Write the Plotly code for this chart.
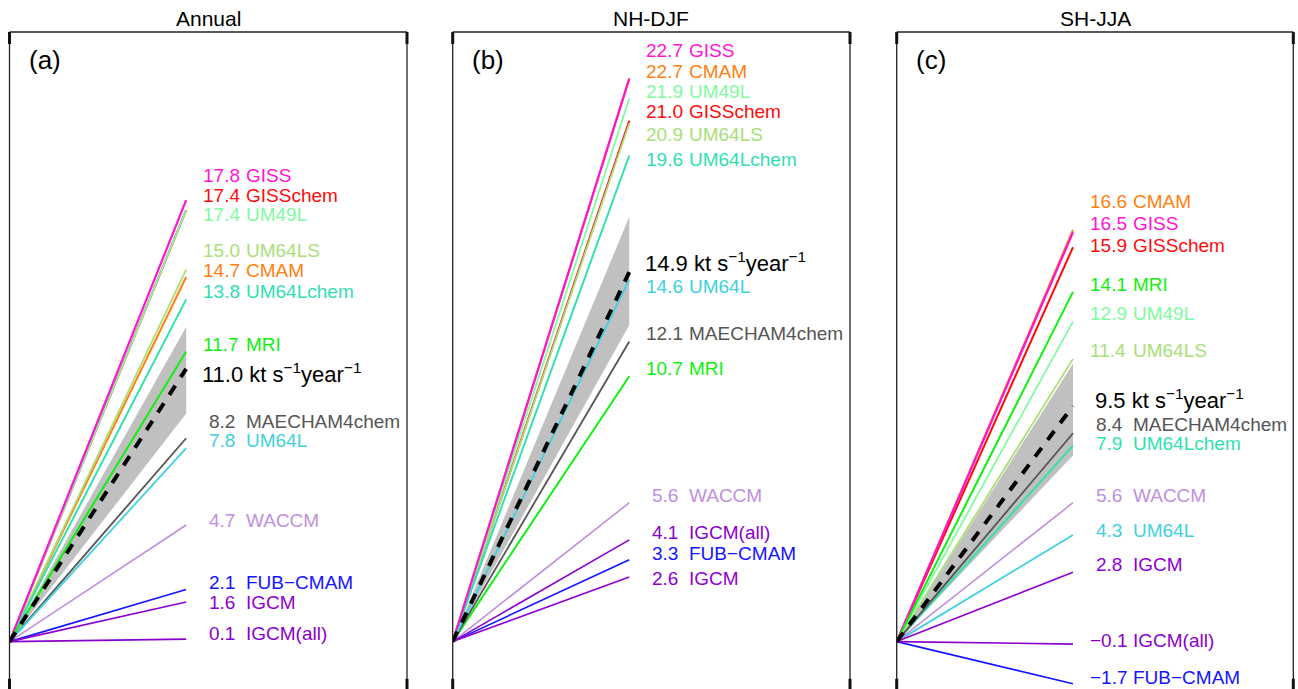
import plotly.graph_objects as go

# ---------------- data ----------------
panel_titles = ["Annual", "NH-DJF", "SH-JJA"]
panel_tags = ["(a)", "(b)", "(c)"]

models_a = ["GISS", "GISSchem", "UM49L", "UM64LS", "CMAM", "UM64Lchem", "MRI",
            "MAECHAM4chem", "UM64L", "WACCM", "FUB\u2212CMAM", "IGCM", "IGCM(all)"]
trend_a = [17.8, 17.4, 17.4, 15.0, 14.7, 13.8, 11.7, 8.2, 7.8, 4.7, 2.1, 1.6, 0.1]

models_b = ["GISS", "CMAM", "UM49L", "GISSchem", "UM64LS", "UM64Lchem", "UM64L",
            "MAECHAM4chem", "MRI", "WACCM", "IGCM(all)", "FUB\u2212CMAM", "IGCM"]
trend_b = [22.7, 22.7, 21.9, 21.0, 20.9, 19.6, 14.6, 12.1, 10.7, 5.6, 4.1, 3.3, 2.6]

models_c = ["CMAM", "GISS", "GISSchem", "MRI", "UM49L", "UM64LS", "MAECHAM4chem",
            "UM64Lchem", "WACCM", "UM64L", "IGCM", "IGCM(all)", "FUB\u2212CMAM"]
trend_c = [16.6, 16.5, 15.9, 14.1, 12.9, 11.4, 8.4, 7.9, 5.6, 4.3, 2.8, -0.1, -1.7]

mean_trend = [11.0, 14.9, 9.5]
band_low = [9.2, 12.77, 7.5]
band_high = [12.7, 17.13, 11.2]

time_span = [0.0, 1.0]

# ---------------- layout helpers (positions / styles) ----------------
label_y_a = [18.81, 17.97, 17.22, 15.75, 14.96, 14.11, 11.96, 8.87, 8.09, 4.90, 2.38, 1.58, 0.32]
label_y_b = [23.84, 22.98, 22.17, 21.37, 20.43, 19.43, 14.33, 12.43, 11.02, 5.90, 4.41, 3.57, 2.54]
label_y_c = [17.73, 16.85, 15.99, 14.41, 13.22, 11.75, 8.77, 8.00, 5.90, 4.50, 3.12, 0.06, -1.46]
mean_label_y = [10.82, 15.30, 9.80]

colors = {
    "GISS": "#ff14d2",
    "GISSchem": "#ff0a0a",
    "UM49L": "#80fba0",
    "UM64LS": "#a8e078",
    "CMAM": "#ff8010",
    "UM64Lchem": "#30e0b0",
    "MRI": "#10f010",
    "MAECHAM4chem": "#555555",
    "UM64L": "#40d0e0",
    "WACCM": "#c090e0",
    "FUB\u2212CMAM": "#1414ff",
    "IGCM": "#9000d0",
    "IGCM(all)": "#8a00cc",
}
widths = {"GISS": 2.2, "GISSchem": 2.0, "UM49L": 1.8, "UM64LS": 1.8, "CMAM": 2.0,
          "UM64Lchem": 2.0, "MRI": 2.0, "MAECHAM4chem": 1.8, "UM64L": 1.8,
          "WACCM": 1.6, "FUB\u2212CMAM": 1.6, "IGCM": 1.6, "IGCM(all)": 1.6}
draw_order = ["CMAM", "GISSchem", "UM64LS", "UM49L", "UM64Lchem", "GISS", "MRI",
              "MAECHAM4chem", "UM64L", "WACCM", "FUB\u2212CMAM", "IGCM", "IGCM(all)"]

FONT = "Liberation Sans, Arial, Helvetica, sans-serif"
W, H = 1298, 689
x_domains = [[9.5 / W, 407 / W], [452.7 / W, 850 / W], [896.7 / W, 1293.3 / W]]
y_domain = [0, (H - 32) / H]
y_range = [-1.911, 24.58]
x_range = [0, 2.25]
num_x = 1.086
name_x = 1.328

panels = [(models_a, trend_a, label_y_a), (models_b, trend_b, label_y_b), (models_c, trend_c, label_y_c)]

fig = go.Figure()
annotations = []
shapes = []


def fmt(v):
    return ("%.1f" % v).replace("-", "\u2212")


for i, (models, trends, ly) in enumerate(panels):
    xa = "x" if i == 0 else "x%d" % (i + 1)
    ya = "y" if i == 0 else "y%d" % (i + 1)
    # uncertainty band
    fig.add_trace(go.Scatter(
        x=[time_span[0], time_span[1], time_span[1], time_span[0]],
        y=[0, band_low[i], band_high[i], 0],
        fill="toself", fillcolor="#c0c0c0", line=dict(width=0),
        mode="lines", hoverinfo="skip", showlegend=False, xaxis=xa, yaxis=ya))
    # model lines
    trend_of = dict(zip(models, trends))
    for m in draw_order:
        t = trend_of[m]
        fig.add_trace(go.Scatter(
            x=time_span, y=[0, t], mode="lines",
            line=dict(color=colors[m], width=widths[m]),
            name=m, showlegend=False, xaxis=xa, yaxis=ya))
    # multi-model mean
    fig.add_trace(go.Scatter(
        x=time_span, y=[0, mean_trend[i]], mode="lines",
        line=dict(color="black", width=4, dash="11px,10px"),
        name="mean", showlegend=False, xaxis=xa, yaxis=ya))

    # labels
    for m, t, yy in zip(models, trends, ly):
        shift = 5.5 if 0 <= t < 10 else 0
        annotations.append(dict(
            x=num_x, y=yy, xref=xa, yref=ya, text=fmt(t), showarrow=False,
            xanchor="left", yanchor="middle", xshift=shift,
            font=dict(family=FONT, size=19, color=colors[m])))
        annotations.append(dict(
            x=name_x, y=yy, xref=xa, yref=ya, text=m, showarrow=False,
            xanchor="left", yanchor="middle",
            font=dict(family=FONT, size=19, color=colors[m])))
    mv = mean_trend[i]
    annotations.append(dict(
        x=1.080, y=mean_label_y[i], xref=xa, yref=ya,
        text=fmt(mv) + " kt s<sup>\u22121</sup>year<sup>\u22121</sup>",
        showarrow=False, xanchor="left", yanchor="middle",
        xshift=5.5 if mv < 10 else 0,
        font=dict(family=FONT, size=22, color="black")))
    # panel tag
    annotations.append(dict(
        x=0, y=1, xref=xa + " domain", yref=ya + " domain", text=panel_tags[i],
        showarrow=False, xanchor="left", yanchor="middle", xshift=17, yshift=-28,
        font=dict(family=FONT, size=26, color="black")))
    # title
    annotations.append(dict(
        x=0.5, y=1, xref=xa + " domain", yref="paper", text=panel_titles[i],
        showarrow=False, xanchor="center", yanchor="middle", yshift=-18,
        font=dict(family=FONT, size=21, color="black")))

    # frame (left, right, top) and corner ticks
    for (x0, y0, x1, y1) in [(0, 0, 0, 1), (1, 0, 1, 1), (0, 1, 1, 1)]:
        shapes.append(dict(type="line", xref=xa + " domain", yref=ya + " domain",
                           x0=x0, y0=y0, x1=x1, y1=y1,
                           line=dict(color="#222222", width=1.3)))
    tl = 12 / (H * (y_domain[1] - y_domain[0]))
    for xx in (0, 1):
        shapes.append(dict(type="line", xref=xa + " domain", yref=ya + " domain",
                           x0=xx, y0=1, x1=xx, y1=1 - tl,
                           line=dict(color="#111111", width=3)))
        shapes.append(dict(type="line", xref=xa + " domain", yref=ya + " domain",
                           x0=xx, y0=0, x1=xx, y1=tl * 0.85,
                           line=dict(color="#111111", width=3)))

axis_common = dict(showgrid=False, zeroline=False, showticklabels=False,
                   ticks="", showline=False, fixedrange=True)
layout = dict(
    width=W, height=H, margin=dict(l=0, r=0, t=0, b=0),
    paper_bgcolor="white", plot_bgcolor="white",
    annotations=annotations, shapes=shapes, showlegend=False,
)
for i in range(3):
    xk = "xaxis" if i == 0 else "xaxis%d" % (i + 1)
    yk = "yaxis" if i == 0 else "yaxis%d" % (i + 1)
    layout[xk] = dict(axis_common, domain=x_domains[i], range=x_range,
                      anchor="y" if i == 0 else "y%d" % (i + 1))
    layout[yk] = dict(axis_common, domain=y_domain, range=y_range,
                      anchor="x" if i == 0 else "x%d" % (i + 1))
fig.update_layout(**layout)

fig.write_html("out.html")
